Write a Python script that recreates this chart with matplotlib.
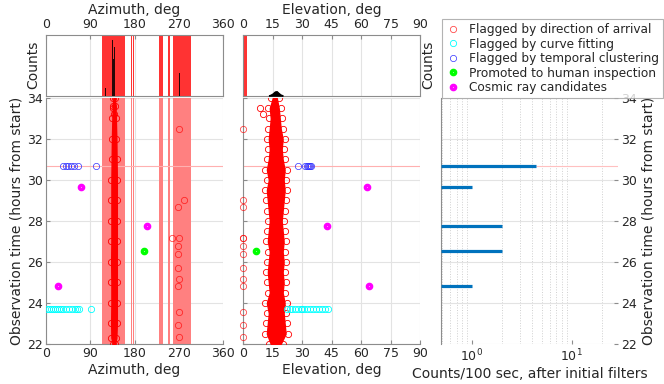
import matplotlib
matplotlib.use("Agg")
import matplotlib.pyplot as plt
from matplotlib.lines import Line2D
import numpy as np

# ---- data ----
# blocked azimuth sectors (deg)
az_spans = [(113.5, 161.5), (173.5, 175.0), (177.5, 179.0), (229.0, 238.0), (248.0, 252.0), (258.5, 294.5)]
el_spans = [(0.0, 2.0)]

# top histograms (arbitrary counts, ylim 0..1000)
az_hist_deg = [121, 135.5, 137, 139, 271]
az_hist_cnt = [130, 910, 600, 790, 380]
el_hist_deg = [13, 14, 15, 16, 17, 18, 19, 20]
el_hist_cnt = [8, 20, 40, 70, 75, 45, 20, 8]

# dense column of direction-flagged events (edges of the band)
az_col_t = [22.0, 22.3, 23, 24, 25, 26, 27, 28, 29, 30, 31, 32, 33, 33.6, 34.0]
az_col_lo = [136, 133, 132.5, 133, 133, 132.5, 133, 133, 133, 133, 133.5, 134, 135, 136, 137]
az_col_hi = [140, 143, 144, 144, 144, 144, 144, 144, 144, 144, 143.5, 143, 142, 141, 140]

el_col_t = [22.0, 22.5, 23.0, 23.5, 24.0, 24.5, 25.0, 25.5, 26.0, 26.5, 27.0, 27.5, 28.0,
            28.5, 29.0, 29.5, 30.0, 30.5, 31.0, 31.5, 32.0, 32.5, 33.0, 33.5, 34.0]
el_col_lo = [13, 11, 11.5, 12, 11, 12.5, 12, 11.5, 12, 12.5, 11.5, 12, 12.5,
             12, 11.5, 11, 12, 11, 12, 12.5, 12, 12.5, 13, 12.5, 14]
el_col_hi = [20, 22.5, 22, 21.5, 22, 21, 21.5, 21, 21.5, 21, 21.5, 21, 20.5,
             21, 21.5, 22, 21.5, 22, 21, 20.5, 21, 20, 19.5, 19, 18]

# outliers flagged by direction (az ~270, el ~0)
out_t = [32.48, 29.02, 28.66, 27.19, 27.19, 26.77, 26.38, 25.73, 25.17, 24.81, 23.57, 22.93, 22.33]
out_az = [270.5, 280, 268, 256.5, 270.5, 269, 268, 269, 270.5, 268, 270.5, 269, 270]
out_el = [0, 0, 0, 0, 0, 0, 0, 0, 0, 0, 0, 0, 0]
top_out_t = [33.5, 33.2]
top_out_el = [8.5, 10]
top_out_az = [137, 139]

# temporal clustering (blue)
blue_t = 30.66
blue_az = [35, 40, 45, 50, 56, 65, 102]
blue_el = [33, 31.5, 32.5, 33.5, 34, 34.5, 28]

# curve fitting (cyan)
cyan_t = 23.72
cyan_az = [2, 6, 10, 14, 18, 22, 26, 30, 34, 40, 46, 52, 58, 64, 68, 91]
cyan_el = [22, 23.5, 25, 26.5, 28, 29.5, 31, 32.5, 34, 35.5, 37, 38.5, 40, 41.5, 43, 30]

# human inspection (green) and candidates (magenta)
green_t = [26.53]
green_az = [200]
green_el = [6.5]
mag_t = [29.64, 27.75, 24.81]
mag_az = [72, 205, 24.5]
mag_el = [63, 42.4, 64]

# counts per 100 s
bar_t = [24.81, 26.53, 27.75, 29.64, 30.66]
bar_cnt = [1, 2, 2, 1, 4.4]

# ---- figure ----
plt.rcParams['font.family'] = 'DejaVu Sans'
plt.rcParams['font.size'] = 9
txt = '#262626'
grid_c = '#E3E3E3'
spine_c = '#8C8C8C'
TK = 9      # tick labels
LB = 10     # axis labels

fig = plt.figure(figsize=(6.64, 3.84), dpi=100)
L1, L2, L3 = 0.0693, 0.3664, 0.6642
W = 0.2666
B, H = 0.1042, 0.6406
HB, HH = 0.7508, 0.1589

ax_az = fig.add_axes([L1, B, W, H])
ax_azh = fig.add_axes([L1, HB, W, HH])
ax_el = fig.add_axes([L2, B, W, H])
ax_elh = fig.add_axes([L2, HB, W, HH])
ax_r = fig.add_axes([L3, B, W, H])
ax_rh = fig.add_axes([L3, HB, W, HH])


def style(ax):
    ax.tick_params(direction='in', length=3, color=spine_c, labelcolor=txt, labelsize=TK, pad=2.5)
    for s in ax.spines.values():
        s.set_color(spine_c)
        s.set_linewidth(0.8)
    ax.set_axisbelow(True)


mk = dict(linestyle='none', marker='o', mfc='none')

# azimuth main
for a0, a1 in az_spans:
    ax_az.axvspan(a0, a1, color='#FF8080', lw=0, zorder=1)
ax_az.fill_betweenx(az_col_t, az_col_lo, az_col_hi, color='red', lw=1, zorder=3)
ax_az.plot(az_col_lo, az_col_t, color='red', ms=4.5, mew=0.6, zorder=3, **mk)
ax_az.plot(az_col_hi, az_col_t, color='red', ms=4.5, mew=0.6, zorder=3, **mk)
ax_az.plot(out_az, out_t, color='red', ms=4.5, mew=0.6, alpha=0.7, zorder=3, **mk)
ax_az.plot(top_out_az, top_out_t, color='red', ms=4.5, mew=0.6, zorder=3, **mk)
ax_az.plot(blue_az, [blue_t] * len(blue_az), color='#3030FF', ms=4.5, mew=0.5, zorder=3, **mk)
ax_az.plot(cyan_az, [cyan_t] * len(cyan_az), color='cyan', ms=4.5, mew=0.6, zorder=3, **mk)
ax_az.plot(green_az, green_t, color='#00FF00', ms=3.1, mew=2.4, zorder=4, **mk)
ax_az.plot(mag_az, mag_t, color='magenta', ms=3.1, mew=2.4, zorder=4, **mk)
ax_az.axhline(blue_t, color='#FFB0B0', lw=0.8, zorder=2)
ax_az.set_xlim(0, 360)
ax_az.set_ylim(22, 34)
ax_az.set_xticks([0, 90, 180, 270, 360])
ax_az.set_yticks(range(22, 35, 2))
ax_az.grid(True, color=grid_c, lw=0.8)
ax_az.set_xlabel('Azimuth, deg', fontsize=LB, color=txt, labelpad=2)
ax_az.set_ylabel('Observation time (hours from start)', fontsize=LB, color=txt, labelpad=2)
style(ax_az)
ax_az.spines['top'].set_visible(False)
ax_az.spines['right'].set_visible(False)

# azimuth histogram
for a0, a1 in az_spans:
    ax_azh.axvspan(a0, a1, color='#FF3333', lw=0, zorder=1)
ax_azh.bar(az_hist_deg, az_hist_cnt, width=2.5, color='black', alpha=0.85, zorder=3)
ax_azh.set_xlim(0, 360)
ax_azh.set_ylim(0, 1000)
ax_azh.set_xticks([0, 90, 180, 270, 360])
ax_azh.set_yticks([])
ax_azh.xaxis.tick_top()
ax_azh.xaxis.set_label_position('top')
ax_azh.set_xlabel('Azimuth, deg', fontsize=LB, color=txt, labelpad=3)
ax_azh.set_ylabel('Counts', fontsize=LB, color=txt, labelpad=4)
ax_azh.grid(True, axis='x', color=grid_c, lw=0.8)
style(ax_azh)

# elevation main
ax_el.fill_betweenx(el_col_t, np.array(el_col_lo) + 1, np.array(el_col_hi) - 1, color='red', lw=1, zorder=3)
ax_el.plot(el_col_lo, el_col_t, color='red', ms=4.5, mew=0.6, zorder=3, **mk)
ax_el.plot(el_col_hi, el_col_t, color='red', ms=4.5, mew=0.6, zorder=3, **mk)
ax_el.plot(out_el, out_t, color='red', ms=4.5, mew=0.6, alpha=0.7, zorder=3, clip_on=False, **mk)
ax_el.plot(top_out_el, top_out_t, color='red', ms=4.5, mew=0.6, zorder=3, **mk)
ax_el.plot(blue_el, [blue_t] * len(blue_el), color='#3030FF', ms=4.5, mew=0.5, zorder=3, **mk)
ax_el.plot(cyan_el, [cyan_t] * len(cyan_el), color='cyan', ms=4.5, mew=0.6, zorder=3, **mk)
ax_el.plot(green_el, green_t, color='#00FF00', ms=3.1, mew=2.4, zorder=4, **mk)
ax_el.plot(mag_el, mag_t, color='magenta', ms=3.1, mew=2.4, zorder=4, **mk)
ax_el.axhline(blue_t, color='#FFB0B0', lw=0.8, zorder=2)
ax_el.set_xlim(0, 90)
ax_el.set_ylim(22, 34)
ax_el.set_xticks(range(0, 91, 15))
ax_el.set_yticks(range(22, 35, 2))
ax_el.set_yticklabels([])
ax_el.grid(True, color=grid_c, lw=0.8)
ax_el.set_xlabel('Elevation, deg', fontsize=LB, color=txt, labelpad=2)
style(ax_el)
ax_el.spines['top'].set_visible(False)
ax_el.spines['right'].set_visible(False)

# elevation histogram
for e0, e1 in el_spans:
    ax_elh.axvspan(e0, e1, color='#FF3333', lw=0, zorder=1)
ax_elh.fill_between(el_hist_deg, el_hist_cnt, color='black', lw=0.8, zorder=3)
ax_elh.set_xlim(0, 90)
ax_elh.set_ylim(0, 1000)
ax_elh.set_xticks(range(0, 91, 15))
ax_elh.set_yticks([])
ax_elh.xaxis.tick_top()
ax_elh.xaxis.set_label_position('top')
ax_elh.set_xlabel('Elevation, deg', fontsize=LB, color=txt, labelpad=3)
ax_elh.grid(True, axis='x', color=grid_c, lw=0.8)
style(ax_elh)

# counts per 100 s (log)
x0 = 0.49
ax_r.set_xscale('log')
ax_r.hlines(bar_t, x0, bar_cnt, color='#0072BD', lw=2.3, zorder=3)
ax_r.hlines([blue_t], bar_cnt[-1], 29, color='#FFC0C0', lw=0.8, zorder=2)
ax_r.set_xlim(x0, 29)
ax_r.set_ylim(22, 34)
ax_r.set_yticks(range(22, 35, 2))
ax_r.yaxis.tick_right()
ax_r.yaxis.set_label_position('right')
ax_r.grid(True, axis='y', color=grid_c, lw=0.8)
ax_r.grid(True, axis='x', which='minor', color='#D0D0D0', lw=0.7, ls=':')
ax_r.set_xlabel('Counts/100 sec, after initial filters', fontsize=LB, color=txt, labelpad=2)
ax_r.set_ylabel('Observation time (hours from start)', fontsize=LB, color=txt, labelpad=3)
style(ax_r)
ax_r.tick_params(which='minor', length=0)
ax_r.spines['top'].set_visible(False)
ax_r.spines['right'].set_visible(False)
ax_r.spines['bottom'].set_visible(False)

# right top: empty panel holding the legend
ax_rh.set_xticks([])
ax_rh.set_yticks([])
for s in ax_rh.spines.values():
    s.set_visible(False)
ax_rh.set_ylabel('Counts', fontsize=LB, color=txt, labelpad=4)

handles = [
    Line2D([], [], color='red', ms=4.5, mew=0.6, alpha=0.7, **mk),
    Line2D([], [], color='cyan', ms=4.5, mew=0.6, **mk),
    Line2D([], [], color='#3030FF', ms=4.5, mew=0.5, **mk),
    Line2D([], [], color='#00FF00', ms=3.1, mew=2.4, **mk),
    Line2D([], [], color='magenta', ms=3.1, mew=2.4, **mk),
]
labels = ['Flagged by direction of arrival', 'Flagged by curve fitting',
          'Flagged by temporal clustering', 'Promoted to human inspection',
          'Cosmic ray candidates']
leg = fig.legend(handles, labels, loc='upper left', bbox_to_anchor=(442 / 664, 1 - 19 / 384),
                 fontsize=8.7, frameon=True, fancybox=False, borderpad=0.35, labelspacing=0.12,
                 handlelength=1.2, handletextpad=0.7, borderaxespad=0)
leg.get_frame().set_edgecolor('#A0A0A0')
leg.get_frame().set_linewidth(0.8)
for t in leg.get_texts():
    t.set_color(txt)

fig.savefig('out.png', dpi=100)
